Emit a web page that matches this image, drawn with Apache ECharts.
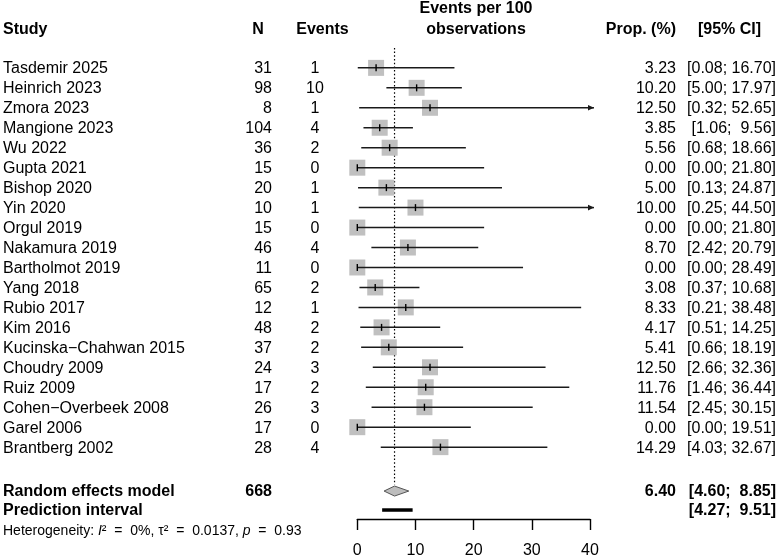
<!DOCTYPE html>
<html>
<head>
<meta charset="utf-8">
<script src="https://cdn.jsdelivr.net/npm/echarts@6/dist/echarts.min.js"></script>
<style>
html,body{margin:0;padding:0;background:#fff;}
#chart{width:780px;height:559px;}
</style>
</head>
<body>
<div id="chart"></div>
<script>
// ---------- data ----------
const studies = ["Tasdemir 2025","Heinrich 2023","Zmora 2023","Mangione 2023","Wu 2022","Gupta 2021","Bishop 2020","Yin 2020","Orgul 2019","Nakamura 2019","Bartholmot 2019","Yang 2018","Rubio 2017","Kim 2016","Kucinska\u2212Chahwan 2015","Choudry 2009","Ruiz 2009","Cohen\u2212Overbeek 2008","Garel 2006","Brantberg 2002"];
const nObs   = [31,98,8,104,36,15,20,10,15,46,11,65,12,48,37,24,17,26,17,28];
const events = [1,10,1,4,2,0,1,1,0,4,0,2,1,2,2,3,2,3,0,4];
const prop   = [3.23,10.20,12.50,3.85,5.56,0.00,5.00,10.00,0.00,8.70,0.00,3.08,8.33,4.17,5.41,12.50,11.76,11.54,0.00,14.29];
const lower  = [0.08,5.00,0.32,1.06,0.68,0.00,0.13,0.25,0.00,2.42,0.00,0.37,0.21,0.51,0.66,2.66,1.46,2.45,0.00,4.03];
const upper  = [16.70,17.97,52.65,9.56,18.66,21.80,24.87,44.50,21.80,20.79,28.49,10.68,38.48,14.25,18.19,32.36,36.44,30.15,19.51,32.67];
const pooled = {label:"Random effects model", n:668, est:6.40, lo:4.60, hi:8.85};
const predInt = {label:"Prediction interval", lo:4.27, hi:9.51};
const het = {I2:"0%", tau2:"0.0137", p:"0.93"};
const xTicks = [0,10,20,30,40];
const headers = {study:"Study", n:"N", events:"Events", plot1:"Events per 100", plot2:"observations", prop:"Prop. (%)", ci:"[95% CI]"};

// ---------- layout ----------
const FONT = "'Liberation Sans', Arial, sans-serif";
const XMAX = 40;
const ROW_POOLED = 21.2, ROW_PRED = 22.15, ROW_HET = 23.15, ROW_H1 = -3.0, ROW_H2 = -1.95;
const COL = {study:3, n:272, nHead:258, ev:315, evHead:322.5, plot:476, prop:676, ci:776, ciHead:729.5};
const TEXT_DY = 1;

function f2(v){return v.toFixed(2);}
function pad(s,w){while(s.length<w) s=" "+s; return s;}
function ciText(lo,hi){return "[" + pad(f2(lo),4) + "; " + pad(f2(hi),5) + "]";}

// text items: [row, x, text, align, bold]
const textItems = [];
textItems.push([ROW_H2, COL.study, headers.study, 'left', true]);
textItems.push([ROW_H2, COL.nHead, headers.n, 'center', true]);
textItems.push([ROW_H2, COL.evHead, headers.events, 'center', true]);
textItems.push([ROW_H1, COL.plot, headers.plot1, 'center', true]);
textItems.push([ROW_H2, COL.plot, headers.plot2, 'center', true]);
textItems.push([ROW_H2, COL.prop, headers.prop, 'right', true]);
textItems.push([ROW_H2, COL.ciHead, headers.ci, 'center', true]);
studies.forEach((s,i)=>{
  textItems.push([i, COL.study, s, 'left', false]);
  textItems.push([i, COL.n, String(nObs[i]), 'right', false]);
  textItems.push([i, COL.ev, String(events[i]), 'center', false]);
  textItems.push([i, COL.prop, f2(prop[i]), 'right', false]);
  textItems.push([i, COL.ci, ciText(lower[i], upper[i]), 'right', false]);
});
textItems.push([ROW_POOLED, COL.study, pooled.label, 'left', true]);
textItems.push([ROW_POOLED, COL.n, String(pooled.n), 'right', true]);
textItems.push([ROW_POOLED, COL.prop, f2(pooled.est), 'right', true]);
textItems.push([ROW_POOLED, COL.ci, ciText(pooled.lo, pooled.hi), 'right', true]);
textItems.push([ROW_PRED, COL.study, predInt.label, 'left', true]);
textItems.push([ROW_PRED, COL.ci, ciText(predInt.lo, predInt.hi), 'right', true]);

const studyData = studies.map((s,i)=>[prop[i], i, lower[i], upper[i]]);

const chart = echarts.init(document.getElementById('chart'), null, {renderer:'canvas'});
chart.setOption({
  animation:false,
  backgroundColor:'#fff',
  grid:{left:357.3, right:190, top:0, bottom:39},
  xAxis:{type:'value', min:0, max:XMAX, interval:10,
    axisLine:{onZero:false, lineStyle:{color:'#000', width:1.4}},
    axisTick:{length:11, lineStyle:{color:'#000', width:1.4}},
    axisLabel:{fontSize:16, color:'#000', fontFamily:FONT, margin:24},
    splitLine:{show:false}},
  yAxis:{type:'value', inverse:true, min:-3.4, max:22.6, show:false},
  series:[
    { // reference dotted line at pooled estimate
      type:'line', symbol:'none', silent:true, z:1,
      data:[[pooled.est,-1.0],[pooled.est,20.88]],
      lineStyle:{color:'#000', width:1.2, type:[1.5,2.2]}
    },
    { // study squares + CIs
      type:'custom', z:3, clip:false,
      data:studyData,
      renderItem:function(params, api){
        const est = api.value(0), row = api.value(1), lo = api.value(2), hi = api.value(3);
        const c = api.coord([est,row]);
        const pLo = api.coord([lo,row]);
        const pHi = api.coord([Math.min(hi,XMAX),row]);
        const sz = 16;
        const ch = [
          {type:'rect', shape:{x:c[0]-sz/2, y:c[1]-sz/2, width:sz, height:sz}, style:{fill:'#c0c0c0'}},
          {type:'line', shape:{x1:pLo[0], y1:c[1], x2:pHi[0], y2:c[1]}, style:{stroke:'#1a1a1a', lineWidth:1.5}},
          {type:'line', shape:{x1:c[0], y1:c[1]-3.5, x2:c[0], y2:c[1]+3.5}, style:{stroke:'#000', lineWidth:1.4}}
        ];
        if (hi > XMAX){
          const tx = pHi[0]+4;
          ch.push({type:'line', shape:{x1:pHi[0], y1:c[1], x2:tx, y2:c[1]}, style:{stroke:'#1a1a1a', lineWidth:1.5}});
          ch.push({type:'polygon', shape:{points:[[tx,c[1]],[tx-6,c[1]-2.8],[tx-6,c[1]+2.8]]}, style:{fill:'#1a1a1a'}});
        }
        return {type:'group', children:ch};
      }
    },
    { // pooled diamond
      type:'custom', z:3, clip:false,
      data:[[pooled.est, ROW_POOLED, pooled.lo, pooled.hi]],
      renderItem:function(params, api){
        const row = api.value(1);
        const c = api.coord([api.value(0),row]);
        const a = api.coord([api.value(2),row]);
        const b = api.coord([api.value(3),row]);
        const h = 5;
        return {type:'polygon', shape:{points:[[a[0],c[1]],[c[0],c[1]-h],[b[0],c[1]],[c[0],c[1]+h]]},
          style:{fill:'#bdbdbd', stroke:'#555', lineWidth:1}};
      }
    },
    { // prediction interval bar
      type:'custom', z:3, clip:false,
      data:[[predInt.lo, ROW_PRED, predInt.hi]],
      renderItem:function(params, api){
        const a = api.coord([api.value(0), api.value(1)]);
        const b = api.coord([api.value(2), api.value(1)]);
        return {type:'rect', shape:{x:a[0], y:a[1]-1.75, width:b[0]-a[0], height:3.5}, style:{fill:'#000'}};
      }
    },
    { // text columns
      type:'custom', z:4, clip:false, silent:true,
      data:textItems.map(t=>[0, t[0]]),
      renderItem:function(params, api){
        const t = textItems[params.dataIndex];
        const y = api.coord([0, api.value(1)])[1] + TEXT_DY;
        return {type:'text', x:t[1], y:y,
          style:{text:t[2], fill:'#000', align:t[3], verticalAlign:'middle',
            font:(t[4]?'bold ':'') + '16px ' + FONT}};
      }
    },
    { // heterogeneity line
      type:'custom', z:4, clip:false, silent:true,
      data:[[0, ROW_HET]],
      renderItem:function(params, api){
        const y = api.coord([0, api.value(1)])[1] + TEXT_DY;
        return {type:'text', x:COL.study, y:y,
          style:{text:'Heterogeneity: {i|I}\u00b2  =  ' + het.I2 + ', \u03c4\u00b2  =  ' + het.tau2 + ', {i|p}  =  ' + het.p,
            fill:'#000', align:'left', verticalAlign:'middle',
            fontSize:14, fontFamily:FONT,
            rich:{i:{fontStyle:'italic', fontSize:14, fontFamily:FONT, fill:'#000'}}}};
      }
    }
  ]
});
</script>
</body>
</html>
